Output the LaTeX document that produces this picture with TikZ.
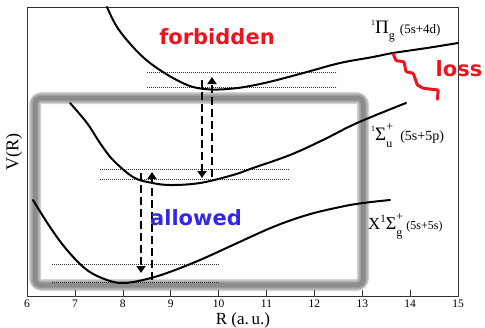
\documentclass[tikz,border=0pt]{standalone}
\usepackage{fontspec}
\setmainfont{Liberation Serif}
\newfontfamily\dvs{DejaVu Sans}
\usetikzlibrary{arrows.meta}
\definecolor{fred}{RGB}{236,20,30}
\definecolor{ablue}{RGB}{52,40,232}
\tikzset{
  curve/.style={line width=2pt, black, line cap=round},
  dotl/.style={line width=0.6pt, black!80, dash pattern=on 1.3pt off 0.7pt},
  darr/.style={line width=2.8pt, dash pattern=on 8pt off 4pt, -{Triangle[length=7pt,width=9pt]}},
  ticklab/.style={font=\fontsize{11.5}{12}\selectfont, anchor=center, inner sep=0pt},
  bigword/.style={font=\dvs\bfseries\fontsize{21}{22}\selectfont, inner sep=0pt}
}
\begin{document}
\begin{tikzpicture}[x=1pt,y=-1pt]
\useasboundingbox (0,0) rectangle (485,327);
% gray highlight box (blurred look)
\draw[line width=12pt, gray!35, rounded corners=7pt] (35,98) rectangle (363,285);
\draw[line width=9pt, gray!65, rounded corners=6pt] (35,98) rectangle (363,285);
\draw[line width=5pt, gray!90, rounded corners=5pt] (35,98) rectangle (363,285);
% frame
\draw[line width=0.8pt, black!80] (27,7) rectangle (458,296);
\foreach \k [evaluate=\k as \xx using {27+(\k-6)*47.9}] in {6,...,15} {
  \draw[line width=0.6pt, black!80] (\xx,296) -- (\xx,290);
  \node[ticklab] (t\k) at (\xx,304) {\k};
}
\node[font=\fontsize{17}{18}\selectfont, anchor=base, inner sep=0pt] (xlab) at (243,324) {R (a.\,u.)};
\node[font=\fontsize{18}{19}\selectfont, rotate=90] (ylab) at (14,152) {V(R)};
% dotted levels
\draw[dotl] (147,72) -- (337,72);
\draw[dotl] (147,87) -- (337,87);
\draw[dotl] (100,169) -- (290,169);
\draw[dotl] (100,179) -- (290,179);
\draw[dotl] (52,264) -- (219,264);
\draw[dotl] (52,282) -- (219,282);
% curves
\draw[curve] plot[smooth, tension=0.6] coordinates {(107,7) (117,27) (133,47) (150,63) (173,78) (193,87) (213,89.5) (233,88.5) (250,86) (273,81) (307,72) (340,63) (373,57) (393,53) (427,48) (458,43)};
\draw[curve] plot[smooth, tension=0.6] coordinates {(70,103) (87,123) (100,143) (113,160) (133,177) (150,182.5) (170,185) (200,183) (233,175) (253,168) (290,155) (323,140) (357,123) (406,103)};
\draw[curve] plot[smooth, tension=0.6] coordinates {(33,200) (50,227) (67,250) (87,270) (107,280) (123,283) (143,280) (167,273) (200,260) (233,245) (273,227) (307,215) (340,207) (363,203) (390,200)};
% transitions
\coordinate (a1s) at (202,80);  \coordinate (a1e) at (202,178);
\coordinate (a2s) at (212,177); \coordinate (a2e) at (212,77);
\coordinate (b1s) at (141,173); \coordinate (b1e) at (141,273);
\coordinate (b2s) at (152,280); \coordinate (b2e) at (152,172);
\draw[darr] (a1s) -- (a1e);
\draw[darr] (a2s) -- (a2e);
\draw[darr] (b1s) -- (b1e);
\draw[darr] (b2s) -- (b2e);
% loss wiggle
\draw[fred, line width=3pt, line join=round, line cap=round, rounded corners=1pt]
  (393.3,54) -- (396,60.7) -- (404,61.7) -- (406,71.7) -- (413.3,73.3) -- (417.3,85) -- (423.3,88.3) -- (438.3,90) -- (437.3,99.3);
% words
\node[bigword, text=fred] (forb) at (217,37) {forbidden};
\node[bigword, text=fred] (loss) at (459,69) {loss};
\node[bigword, text=ablue] (allow) at (196,218) {allowed};
% state labels
\node[anchor=base west, inner sep=0pt] (lPi) at (371,33) {\raisebox{8pt}{\fontsize{8}{8}\selectfont 1}\fontsize{19}{19}\selectfont Π\raisebox{-6pt}{\fontsize{12}{12}\selectfont g}\hspace{5pt}\fontsize{13}{13}\selectfont (5s+4d)};
\node[anchor=base west, inner sep=0pt] (lSu) at (371,140) {\raisebox{9pt}{\fontsize{8}{8}\selectfont 1}\fontsize{19}{19}\selectfont Σ\rlap{\raisebox{10pt}{\fontsize{12}{12}\selectfont +}}\raisebox{-7pt}{\fontsize{12}{12}\selectfont u}\hspace{8pt}\fontsize{14}{14}\selectfont (5s+5p)};
\node[anchor=base west, inner sep=0pt] (lX) at (368,229) {\fontsize{17}{17}\selectfont X\raisebox{7pt}{\fontsize{11}{11}\selectfont 1}\fontsize{18}{18}\selectfont Σ\rlap{\raisebox{9pt}{\fontsize{12}{12}\selectfont +}}\raisebox{-7pt}{\fontsize{12}{12}\selectfont g}\hspace{4pt}\fontsize{12}{12}\selectfont (5s+5s)};
\end{tikzpicture}
\end{document}
